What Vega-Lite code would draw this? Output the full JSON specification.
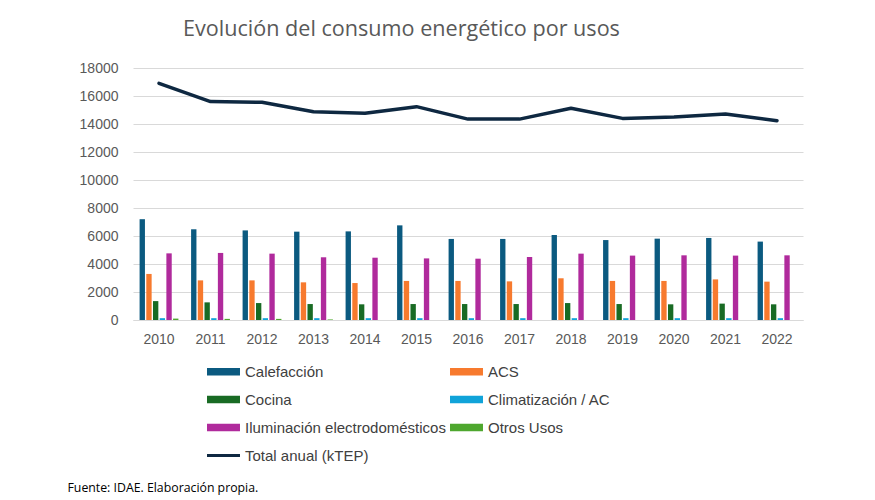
{
  "$schema": "https://vega.github.io/schema/vega-lite/v6.json",
  "width": 670,
  "height": 252,
  "autosize": {"type": "none"},
  "padding": {"left": 133, "top": 68, "right": 72, "bottom": 180},
  "background": "white",
  "config": {
    "view": {"stroke": null},
    "font": "Liberation Sans",
    "axisY": {
      "title": null,
      "values": [0, 2000, 4000, 6000, 8000, 10000, 12000, 14000, 16000, 18000],
      "format": "d",
      "grid": true,
      "gridColor": "#d9d9d9",
      "domain": false,
      "ticks": false,
      "labelPadding": 15,
      "labelFontSize": 14,
      "labelColor": "#595959",
      "labelOverlap": false
    }
  },
  "title": {
    "text": "Evolución del consumo energético por usos",
    "anchor": "start",
    "frame": "group",
    "dx": 50,
    "offset": 20,
    "fontSize": 21.6,
    "font": "Open Sans",
    "fontWeight": "normal",
    "color": "#595959"
  },
  "datasets": {
    "bars": [
      {"year": "2010", "uso": "Calefacción", "value": 7200},
      {"year": "2010", "uso": "ACS", "value": 3290},
      {"year": "2010", "uso": "Cocina", "value": 1350},
      {"year": "2010", "uso": "Climatización / AC", "value": 130},
      {"year": "2010", "uso": "Iluminación electrodomésticos", "value": 4760},
      {"year": "2010", "uso": "Otros Usos", "value": 100},
      {"year": "2011", "uso": "Calefacción", "value": 6480},
      {"year": "2011", "uso": "ACS", "value": 2830},
      {"year": "2011", "uso": "Cocina", "value": 1260},
      {"year": "2011", "uso": "Climatización / AC", "value": 130},
      {"year": "2011", "uso": "Iluminación electrodomésticos", "value": 4790},
      {"year": "2011", "uso": "Otros Usos", "value": 80},
      {"year": "2012", "uso": "Calefacción", "value": 6400},
      {"year": "2012", "uso": "ACS", "value": 2830},
      {"year": "2012", "uso": "Cocina", "value": 1210},
      {"year": "2012", "uso": "Climatización / AC", "value": 130},
      {"year": "2012", "uso": "Iluminación electrodomésticos", "value": 4740},
      {"year": "2012", "uso": "Otros Usos", "value": 80},
      {"year": "2013", "uso": "Calefacción", "value": 6310},
      {"year": "2013", "uso": "ACS", "value": 2690},
      {"year": "2013", "uso": "Cocina", "value": 1140},
      {"year": "2013", "uso": "Climatización / AC", "value": 130},
      {"year": "2013", "uso": "Iluminación electrodomésticos", "value": 4480},
      {"year": "2013", "uso": "Otros Usos", "value": 40},
      {"year": "2014", "uso": "Calefacción", "value": 6330},
      {"year": "2014", "uso": "ACS", "value": 2640},
      {"year": "2014", "uso": "Cocina", "value": 1120},
      {"year": "2014", "uso": "Climatización / AC", "value": 130},
      {"year": "2014", "uso": "Iluminación electrodomésticos", "value": 4450},
      {"year": "2014", "uso": "Otros Usos", "value": 0},
      {"year": "2015", "uso": "Calefacción", "value": 6760},
      {"year": "2015", "uso": "ACS", "value": 2790},
      {"year": "2015", "uso": "Cocina", "value": 1140},
      {"year": "2015", "uso": "Climatización / AC", "value": 130},
      {"year": "2015", "uso": "Iluminación electrodomésticos", "value": 4400},
      {"year": "2015", "uso": "Otros Usos", "value": 0},
      {"year": "2016", "uso": "Calefacción", "value": 5790},
      {"year": "2016", "uso": "ACS", "value": 2790},
      {"year": "2016", "uso": "Cocina", "value": 1140},
      {"year": "2016", "uso": "Climatización / AC", "value": 130},
      {"year": "2016", "uso": "Iluminación electrodomésticos", "value": 4380},
      {"year": "2016", "uso": "Otros Usos", "value": 0},
      {"year": "2017", "uso": "Calefacción", "value": 5790},
      {"year": "2017", "uso": "ACS", "value": 2760},
      {"year": "2017", "uso": "Cocina", "value": 1140},
      {"year": "2017", "uso": "Climatización / AC", "value": 130},
      {"year": "2017", "uso": "Iluminación electrodomésticos", "value": 4500},
      {"year": "2017", "uso": "Otros Usos", "value": 0},
      {"year": "2018", "uso": "Calefacción", "value": 6070},
      {"year": "2018", "uso": "ACS", "value": 2980},
      {"year": "2018", "uso": "Cocina", "value": 1210},
      {"year": "2018", "uso": "Climatización / AC", "value": 130},
      {"year": "2018", "uso": "Iluminación electrodomésticos", "value": 4740},
      {"year": "2018", "uso": "Otros Usos", "value": 0},
      {"year": "2019", "uso": "Calefacción", "value": 5710},
      {"year": "2019", "uso": "ACS", "value": 2790},
      {"year": "2019", "uso": "Cocina", "value": 1140},
      {"year": "2019", "uso": "Climatización / AC", "value": 130},
      {"year": "2019", "uso": "Iluminación electrodomésticos", "value": 4600},
      {"year": "2019", "uso": "Otros Usos", "value": 0},
      {"year": "2020", "uso": "Calefacción", "value": 5810},
      {"year": "2020", "uso": "ACS", "value": 2790},
      {"year": "2020", "uso": "Cocina", "value": 1120},
      {"year": "2020", "uso": "Climatización / AC", "value": 130},
      {"year": "2020", "uso": "Iluminación electrodomésticos", "value": 4620},
      {"year": "2020", "uso": "Otros Usos", "value": 0},
      {"year": "2021", "uso": "Calefacción", "value": 5860},
      {"year": "2021", "uso": "ACS", "value": 2900},
      {"year": "2021", "uso": "Cocina", "value": 1170},
      {"year": "2021", "uso": "Climatización / AC", "value": 130},
      {"year": "2021", "uso": "Iluminación electrodomésticos", "value": 4600},
      {"year": "2021", "uso": "Otros Usos", "value": 0},
      {"year": "2022", "uso": "Calefacción", "value": 5600},
      {"year": "2022", "uso": "ACS", "value": 2740},
      {"year": "2022", "uso": "Cocina", "value": 1120},
      {"year": "2022", "uso": "Climatización / AC", "value": 130},
      {"year": "2022", "uso": "Iluminación electrodomésticos", "value": 4620},
      {"year": "2022", "uso": "Otros Usos", "value": 0}
    ],
    "total": [
      {"year": "2010", "value": 16900},
      {"year": "2011", "value": 15600},
      {"year": "2012", "value": 15550},
      {"year": "2013", "value": 14880},
      {"year": "2014", "value": 14760},
      {"year": "2015", "value": 15240},
      {"year": "2016", "value": 14350},
      {"year": "2017", "value": 14350},
      {"year": "2018", "value": 15120},
      {"year": "2019", "value": 14400},
      {"year": "2020", "value": 14500},
      {"year": "2021", "value": 14710},
      {"year": "2022", "value": 14240}
    ]
  },
  "layer": [
    {
      "data": {"name": "bars"},
      "mark": {"type": "bar"},
      "encoding": {
        "x": {
          "field": "year",
          "type": "nominal",
          "scale": {"paddingInner": 0.22, "paddingOuter": 0.115},
          "axis": {
            "title": "Fuente: IDAE. Elaboración propia.",
            "titleAnchor": "start",
            "titleAlign": "left",
            "titleX": -66,
            "titleY": 167,
            "titleBaseline": "middle",
            "titleFontSize": 12.3,
            "titleFont": "Open Sans",
            "titleFontWeight": "normal",
            "titleColor": "#000000",
            "labelAngle": 0,
            "labelFontSize": 14,
            "labelColor": "#595959",
            "labelPadding": 12,
            "ticks": false,
            "domainColor": "#d9d9d9"
          }
        },
        "xOffset": {
          "field": "uso",
          "type": "nominal",
          "sort": ["Calefacción", "ACS", "Cocina", "Climatización / AC", "Iluminación electrodomésticos", "Otros Usos"],
          "scale": {"paddingInner": 0.2, "paddingOuter": 0.1}
        },
        "y": {
          "field": "value",
          "type": "quantitative",
          "scale": {"domain": [0, 18000]},
          "axis": {"title": null}
        },
        "color": {
          "field": "uso",
          "type": "nominal",
          "scale": {
            "domain": ["Calefacción", "ACS", "Cocina", "Climatización / AC", "Iluminación electrodomésticos", "Otros Usos", "Total anual (kTEP)"],
            "range": ["#0B5A80", "#F77A2E", "#196B24", "#10A3D9", "#B02A9C", "#4EA72E", "#0E2841"]
          },
          "legend": {
            "title": null,
            "orient": "none",
            "direction": "horizontal",
            "legendX": 83,
            "legendY": 296,
            "columns": 2,
            "padding": 0,
            "symbolType": "M-2,-0.45H2V0.45H-2Z",
            "symbolSize": 272,
            "symbolStrokeWidth": 0,
            "labelOffset": 14,
            "columnPadding": 4,
            "rowPadding": 12,
            "labelFontSize": 15,
            "labelColor": "#404040",
            "labelLimit": 400,
            "encode": {
              "symbols": {
                "update": {
                  "shape": {"signal": "datum.value === 'Total anual (kTEP)' ? 'M-2,0H2' : 'M-2,-0.45H2V0.45H-2Z'"},
                  "fill": {"signal": "datum.value === 'Total anual (kTEP)' ? 'transparent' : scale('color', datum.value)"},
                  "stroke": {"signal": "scale('color', datum.value)"},
                  "strokeWidth": {"signal": "datum.value === 'Total anual (kTEP)' ? 3 : 0"},
                  "opacity": {"value": 1}
                }
              }
            }
          }
        }
      }
    },
    {
      "data": {"name": "total"},
      "mark": {"type": "line", "strokeWidth": 3.5, "strokeCap": "round", "strokeJoin": "round"},
      "encoding": {
        "x": {"field": "year", "type": "nominal"},
        "y": {"field": "value", "type": "quantitative", "scale": {"domain": [0, 18000]}, "axis": {"title": null}},
        "color": {"datum": "Total anual (kTEP)"}
      }
    }
  ]
}
